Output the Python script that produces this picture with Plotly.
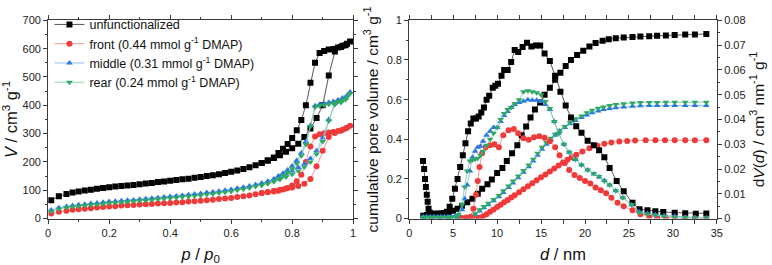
import plotly.graph_objects as go

# ---------------- Left panel: N2 isotherms ----------------
p_ads = [0.01, 0.035, 0.06, 0.08, 0.1, 0.12, 0.14, 0.16, 0.18, 0.2, 0.22, 0.24, 0.26, 0.28, 0.3,
         0.32, 0.34, 0.36, 0.38, 0.4, 0.42, 0.44, 0.46, 0.48, 0.5, 0.52, 0.54, 0.56, 0.58, 0.6,
         0.62, 0.64, 0.66, 0.68, 0.7, 0.72, 0.74, 0.76, 0.78, 0.8, 0.82, 0.84, 0.86, 0.88, 0.9,
         0.92, 0.94, 0.96, 0.975, 0.99]
p_des = [0.98, 0.965, 0.95, 0.935, 0.92, 0.905, 0.89, 0.875, 0.86, 0.845, 0.83, 0.815, 0.8,
         0.785, 0.77, 0.755, 0.74, 0.72, 0.7]

unf_ads = [65, 79, 87, 92, 96, 99, 102, 105, 108, 111, 113, 115, 117, 119, 121, 124, 126, 129, 131,
           134, 136, 139, 141, 144, 147, 150, 153, 157, 161, 165, 170, 175, 181, 188, 196, 205, 214,
           224, 236, 248, 264, 288, 318, 355, 400, 505, 590, 606, 612, 625]
unf_des = [617, 610, 604, 599, 597, 592, 585, 550, 480, 400, 348, 312, 285, 263, 247, 232, 216, 205, 196]

front_ads = [18, 24, 28, 31, 33, 35, 37, 39, 41, 43, 44, 46, 47, 48, 50, 51, 52, 53, 54, 55, 57, 58,
             60, 61, 63, 65, 67, 69, 71, 73, 76, 79, 82, 86, 90, 94, 98, 102, 106, 110, 115, 123,
             140, 185, 240, 288, 302, 310, 318, 328]
front_des = [321, 314, 309, 306, 304, 301, 298, 290, 255, 200, 155, 132, 117, 108, 103, 98, 96, 93, 90]

mid_ads = [30, 38, 43, 46, 49, 51, 53, 55, 58, 60, 61, 63, 65, 66, 68, 70, 72, 74, 76, 78, 80, 82,
           84, 87, 89, 92, 94, 97, 100, 103, 107, 111, 115, 120, 125, 131, 138, 147, 157, 168, 180,
           193, 212, 240, 285, 350, 408, 415, 425, 447]
mid_des = [435, 426, 419, 413, 410, 406, 403, 398, 330, 272, 232, 205, 186, 172, 160, 150, 140, 131, 125]

rear_ads = [25, 34, 39, 42, 44, 46, 48, 50, 52, 55, 56, 58, 59, 61, 63, 64, 66, 68, 70, 72, 74, 76,
            78, 80, 82, 85, 87, 90, 93, 96, 100, 104, 108, 113, 118, 124, 130, 138, 147, 157, 168,
            182, 200, 228, 272, 345, 402, 410, 420, 442]
rear_des = [430, 420, 413, 408, 404, 401, 398, 393, 325, 262, 222, 195, 176, 163, 152, 142, 133, 124, 118]

# ---------------- Right panel: pore size distribution ----------------
d_unf_psd = [1.57, 1.7, 1.8, 1.9, 2.0, 2.1, 2.2, 2.35, 2.5, 2.8, 3.1, 3.4, 3.7, 4.0, 4.3, 4.6, 4.9,
             5.2, 5.5, 5.8, 6.1, 6.4, 6.7, 7.0, 7.3, 7.6, 7.9, 8.2, 8.5, 8.8, 9.1, 9.5, 9.8, 10.1,
             10.5, 10.8, 11.2, 11.6, 12.0, 12.4, 12.9, 13.4, 13.9, 14.4, 14.9, 15.4, 16.0, 16.6,
             17.2, 17.8, 18.4, 19.0, 19.6, 20.3, 21.0, 21.6, 22.2, 22.8, 23.6, 24.4, 25.4, 26.2,
             27.1, 28.0, 28.9, 30.2, 31.4, 32.6, 33.8]
unf_psd = [0.0232, 0.02, 0.016, 0.0128, 0.0096, 0.0068, 0.004, 0.0024, 0.002, 0.002, 0.002, 0.002,
           0.0021, 0.0022, 0.0028, 0.0048, 0.008, 0.012, 0.016, 0.0208, 0.0256, 0.0304, 0.0352,
           0.0384, 0.0404, 0.0404, 0.0412, 0.0428, 0.0448, 0.048, 0.0496, 0.0528, 0.0536, 0.0544,
           0.0576, 0.06, 0.06, 0.0632, 0.068, 0.0672, 0.0692, 0.071, 0.0694, 0.0698, 0.0698,
           0.0666, 0.0636, 0.0576, 0.0512, 0.0456, 0.0408, 0.0373, 0.0346, 0.0314, 0.0296, 0.0276,
           0.0248, 0.0204, 0.0152, 0.011, 0.0064, 0.0038, 0.0034, 0.003, 0.0027, 0.0024, 0.0022,
           0.002, 0.0021]

d_unf_cum = [1.6, 2.0, 2.5, 3.0, 3.5, 4.0, 4.5, 5.0, 5.5, 6.0, 6.6, 7.2, 7.8, 8.3, 8.9, 9.4, 10.0,
             10.6, 11.1, 11.7, 12.3, 12.8, 13.3, 13.8, 14.3, 14.9, 15.4, 16.0, 16.6, 17.2, 17.8,
             18.4, 19.1, 19.8, 20.5, 21.2, 22.0, 22.7, 23.5, 24.4, 25.4, 26.3, 27.3, 28.2, 29.2,
             30.2, 31.4, 32.5, 33.8]
unf_cum = [0.015, 0.018, 0.02, 0.022, 0.024, 0.027, 0.033, 0.04, 0.05, 0.065, 0.082, 0.1, 0.125,
           0.15, 0.173, 0.197, 0.23, 0.255, 0.29, 0.33, 0.37, 0.42, 0.465, 0.51, 0.55, 0.585, 0.625,
           0.66, 0.7, 0.735, 0.77, 0.8, 0.825, 0.847, 0.868, 0.885, 0.897, 0.905, 0.91, 0.913,
           0.916, 0.918, 0.92, 0.922, 0.924, 0.926, 0.928, 0.929, 0.931]

d_front_psd = [6.0, 6.5, 7.0, 7.3, 7.6, 7.8, 8.0, 8.3, 8.7, 9.2, 9.7, 10.2, 10.7, 11.3, 11.9, 12.4,
               13.0, 13.6, 14.2, 14.8, 15.4, 16.0, 16.6, 17.1, 17.7, 18.2, 18.8, 19.4, 20.0, 20.6,
               21.2, 21.8, 22.4, 23.0, 23.7, 24.4, 25.4, 26.3, 27.3, 28.2, 29.2, 30.2, 31.4, 32.5,
               33.8]
front_psd = [0.0002, 0.0004, 0.0008, 0.004, 0.0096, 0.0152, 0.0208, 0.0264, 0.0288, 0.0296, 0.03,
             0.0288, 0.0336, 0.0356, 0.0362, 0.0344, 0.0324, 0.0318, 0.0328, 0.0332, 0.0326, 0.0312,
             0.0288, 0.0256, 0.0224, 0.0196, 0.0176, 0.0164, 0.0152, 0.0142, 0.0126, 0.0114, 0.0102,
             0.0084, 0.0064, 0.005, 0.0034, 0.0018, 0.001, 0.0006, 0.0004, 0.0002, 0.0002, 0.0001,
             0.0]

d_front_cum = [7.6, 8.0, 8.4, 8.8, 9.2, 9.6, 10.0, 10.4, 10.8, 11.2, 11.6, 12.0, 12.5, 13.0, 13.5,
               14.0, 14.5, 15.0, 15.5, 16.0, 16.5, 17.0, 17.5, 18.0, 18.5, 19.0, 19.7, 20.5, 21.4,
               22.2, 23.0, 23.9, 24.8, 25.7, 26.9, 28.0, 29.1, 30.2, 31.4, 32.5, 33.8]
front_cum = [0.0, 0.004, 0.012, 0.022, 0.034, 0.046, 0.058, 0.07, 0.082, 0.094, 0.106, 0.118, 0.133,
             0.148, 0.163, 0.178, 0.193, 0.208, 0.223, 0.238, 0.253, 0.268, 0.283, 0.297, 0.31, 0.322,
             0.338, 0.355, 0.368, 0.377, 0.384, 0.389, 0.392, 0.394, 0.395, 0.395, 0.395, 0.395,
             0.395, 0.395, 0.395]

d_mr_psd = [1.6, 2.0, 2.4, 2.8, 3.2, 3.6, 4.0, 4.4, 4.8, 5.2, 5.6, 6.0, 6.3, 6.6, 6.9, 7.2, 7.5, 7.8,
            8.1, 8.4, 8.8, 9.2, 9.6, 10.0, 10.4, 10.8, 11.2, 11.6, 12.0, 12.5, 13.0, 13.5, 14.0, 14.5,
            15.0, 15.5, 16.0, 16.5, 17.0, 17.6, 18.2, 18.9, 19.6, 20.3, 21.0, 21.6, 22.2, 22.8, 23.5,
            24.3, 25.3, 26.2, 27.1, 28.0, 29.0, 30.2, 31.4, 32.5, 33.8]
mid_psd = [0.0008, 0.0008, 0.0008, 0.0008, 0.0008, 0.0008, 0.0008, 0.0008, 0.0008, 0.001, 0.0016,
           0.0036, 0.008, 0.0136, 0.0192, 0.0248, 0.0272, 0.0288, 0.0292, 0.0312, 0.0336, 0.0352,
           0.0368, 0.0368, 0.0392, 0.0416, 0.0432, 0.0448, 0.046, 0.0468, 0.0474, 0.048, 0.0478,
           0.0478, 0.0472, 0.046, 0.044, 0.0392, 0.0344, 0.03, 0.0268, 0.0238, 0.0216, 0.0196, 0.018,
           0.0168, 0.0154, 0.0136, 0.0112, 0.0084, 0.0056, 0.0028, 0.0021, 0.0016, 0.0012, 0.001,
           0.0006, 0.0004, 0.0002]
rear_psd = [0.0006, 0.0006, 0.0006, 0.0006, 0.0006, 0.0006, 0.0006, 0.0006, 0.0006, 0.0008, 0.0016,
            0.0056, 0.0128, 0.0192, 0.0232, 0.0236, 0.024, 0.0244, 0.0256, 0.0272, 0.0296, 0.032,
            0.0344, 0.0368, 0.04, 0.0424, 0.044, 0.0448, 0.0464, 0.048, 0.0512, 0.0516, 0.0512,
            0.0508, 0.05, 0.0472, 0.0444, 0.0392, 0.0344, 0.03, 0.0268, 0.0238, 0.0216, 0.0196,
            0.0182, 0.017, 0.0152, 0.0136, 0.0112, 0.0084, 0.0056, 0.0024, 0.0018, 0.0014, 0.001,
            0.0006, 0.0004, 0.0002, 0.0002]

d_mr_cum = [1.6, 2.5, 3.5, 4.5, 5.5, 6.5, 7.0, 7.5, 8.0, 8.5, 9.0, 9.6, 10.2, 10.7, 11.3, 11.8,
            12.4, 13.0, 13.6, 14.1, 14.6, 15.1, 15.6, 16.1, 16.6, 17.1, 17.7, 18.3, 18.9, 19.6,
            20.2, 20.8, 21.5, 22.1, 22.8, 23.5, 24.4, 25.4, 26.3, 27.3, 28.2, 29.2, 30.2, 31.4,
            32.5, 33.8]
mid_cum = [0.002, 0.002, 0.002, 0.002, 0.002, 0.003, 0.008, 0.02, 0.038, 0.055, 0.07, 0.09, 0.11,
           0.132, 0.157, 0.18, 0.206, 0.234, 0.262, 0.29, 0.32, 0.35, 0.375, 0.398, 0.42, 0.44,
           0.46, 0.478, 0.495, 0.51, 0.523, 0.534, 0.543, 0.55, 0.555, 0.559, 0.563, 0.567, 0.569,
           0.57, 0.57, 0.571, 0.571, 0.571, 0.571, 0.571]
rear_cum = [0.002, 0.002, 0.002, 0.002, 0.002, 0.004, 0.01, 0.025, 0.045, 0.061, 0.077, 0.096,
            0.117, 0.14, 0.165, 0.19, 0.215, 0.243, 0.27, 0.3, 0.33, 0.36, 0.385, 0.405, 0.425,
            0.445, 0.465, 0.485, 0.503, 0.518, 0.534, 0.546, 0.556, 0.563, 0.57, 0.575, 0.579,
            0.583, 0.585, 0.586, 0.586, 0.587, 0.587, 0.587, 0.587, 0.587]

names = ["unfunctionalized", "front (0.44 mmol g<sup>-1</sup> DMAP)",
         "middle (0.31 mmol g<sup>-1</sup> DMAP)", "rear (0.24 mmol g<sup>-1</sup> DMAP)"]
marker_colors = ["#000000", "#f03a3a", "#2a78e4", "#2fa865"]
line_colors = ["#444444", "#f58a8a", "#8ab8f0", "#82d0a6"]
symbols = ["square", "circle", "triangle-up", "triangle-down"]

iso = [(unf_ads, unf_des), (front_ads, front_des), (mid_ads, mid_des), (rear_ads, rear_des)]
psd = [(d_unf_psd, unf_psd), (d_front_psd, front_psd), (d_mr_psd, mid_psd), (d_mr_psd, rear_psd)]
cum = [(d_unf_cum, unf_cum), (d_front_cum, front_cum), (d_mr_cum, mid_cum), (d_mr_cum, rear_cum)]

FONT = "Arial, Liberation Sans, sans-serif"
fig = go.Figure()

for i in range(4):
    ads, des = iso[i]
    mk = dict(symbol=symbols[i], size=6, color=marker_colors[i], line=dict(width=0))
    ln = dict(color=line_colors[i], width=0.9)
    fig.add_trace(go.Scatter(x=p_ads + p_des, y=ads + des, mode="lines+markers", name=names[i],
                             marker=mk, line=ln, xaxis="x", yaxis="y", showlegend=True))
for i in range(4):
    mk = dict(symbol=symbols[i], size=6, color=marker_colors[i], line=dict(width=0))
    ln = dict(color=line_colors[i], width=0.9)
    fig.add_trace(go.Scatter(x=cum[i][0], y=cum[i][1], mode="lines+markers", marker=mk, line=ln,
                             xaxis="x2", yaxis="y2", showlegend=False))
    fig.add_trace(go.Scatter(x=psd[i][0], y=psd[i][1], mode="lines+markers", marker=mk, line=ln,
                             xaxis="x2", yaxis="y3", showlegend=False))

ax_common = dict(showline=True, linecolor="#3a3a3a", linewidth=1.1, mirror="allticks",
                 ticks="outside", ticklen=4, tickwidth=1, tickcolor="#3a3a3a",
                 showgrid=False, zeroline=False,
                 tickfont=dict(size=11, color="#222", family=FONT))

ydom = [1 - 222.7 / 265, 1 - 15 / 265]
fig.update_layout(
    width=772, height=265,
    margin=dict(l=0, r=0, t=0, b=0),
    paper_bgcolor="white", plot_bgcolor="white",
    font=dict(family=FONT, color="#111"),
    xaxis=dict(ax_common, domain=[45.7 / 772, 354.3 / 772], range=[0, 1], dtick=0.2,
               minor=dict(ticks="outside", ticklen=2, dtick=0.1, tickcolor="#3a3a3a"),
               title=dict(text="<i>p</i> / <i>p</i><sub>0</sub>", font=dict(size=16.5), standoff=10),
               anchor="y"),
    yaxis=dict(ax_common, domain=ydom, range=[0, 700], dtick=100,
               minor=dict(ticks="outside", ticklen=2, dtick=50, tickcolor="#3a3a3a"),
               title=dict(text="<i>V</i> / cm<sup>3</sup> g<sup>-1</sup>", font=dict(size=16.5), standoff=5),
               anchor="x"),
    xaxis2=dict(ax_common, domain=[411 / 772, 722.3 / 772], range=[0, 35], dtick=5,
                minor=dict(ticks="outside", ticklen=2, dtick=2.5, tickcolor="#3a3a3a"),
                title=dict(text="<i>d</i> / nm", font=dict(size=16.5), standoff=10),
                anchor="y2"),
    yaxis2=dict(ax_common, domain=ydom, range=[0, 1], dtick=0.2, mirror=False,
                minor=dict(ticks="outside", ticklen=2, dtick=0.1, tickcolor="#3a3a3a"),
                title=dict(text="cumulative pore volume / cm<sup>3</sup> g<sup>-1</sup>", font=dict(size=15.5), standoff=4),
                anchor="x2"),
    yaxis3=dict(ax_common, domain=ydom, range=[0, 0.08], dtick=0.01, mirror=False,
                overlaying="y2", side="right", anchor="x2",
                minor=dict(ticks="outside", ticklen=2, dtick=0.005, tickcolor="#3a3a3a"),
                title=dict(text="d<i>V</i>(<i>d</i>) / cm<sup>3</sup> nm<sup>-1</sup> g<sup>-1</sup>", font=dict(size=15.5), standoff=8)),
    legend=dict(x=47 / 772, y=1 - 4 / 265, xanchor="left", yanchor="top",
                bgcolor="rgba(0,0,0,0)", font=dict(size=12.5, family=FONT, color="#111"),
                tracegroupgap=0, itemwidth=30),
)

fig.write_html("out.html")
